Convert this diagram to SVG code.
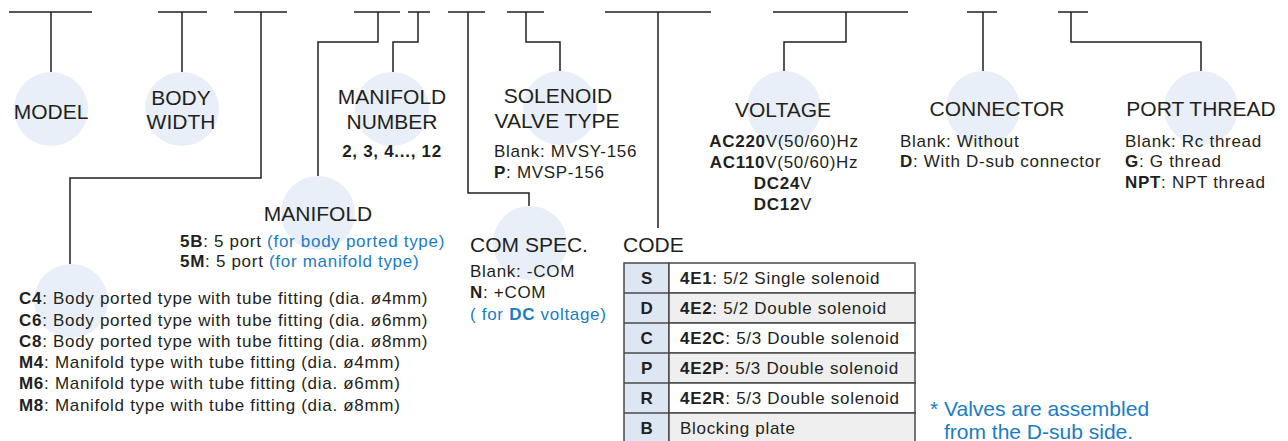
<svg xmlns="http://www.w3.org/2000/svg" width="1288" height="441" viewBox="0 0 1288 441">
<style>
text{font-family:"Liberation Sans",Arial,sans-serif;fill:#231f20}
.h{font-size:21px;text-anchor:middle}
.d{font-size:17px;letter-spacing:0.7px}
.c{text-anchor:middle}
.b{font-weight:bold}
.blue{fill:#1b7cc4}
.note{font-size:21px;fill:#1b7cc4}
.circ{fill:#e9eff9}
.ln{fill:none;stroke:#231f20;stroke-width:1.5}
.cell{stroke:#4a4a4a;stroke-width:1.5}
</style>
<rect width="1288" height="441" fill="#fff"/>
<g id="circles">
<circle class="circ" cx="51" cy="109" r="37"/>
<circle class="circ" cx="182" cy="109" r="37"/>
<circle class="circ" cx="392" cy="109" r="37"/>
<circle class="circ" cx="560" cy="108" r="37"/>
<circle class="circ" cx="784" cy="108" r="37"/>
<circle class="circ" cx="983" cy="108" r="37"/>
<circle class="circ" cx="1201" cy="108" r="37"/>
<circle class="circ" cx="318" cy="213" r="37"/>
<circle class="circ" cx="71" cy="301" r="37"/>
<circle class="circ" cx="530" cy="243" r="37"/>
</g>
<g id="connectors">
<path class="ln" d="M9 12H92M51 12V72"/>
<path class="ln" d="M158 12H207M182 12V72"/>
<path class="ln" d="M234 12H287M261 12V178H70V264"/>
<path class="ln" d="M354 12H400M378 12V42H318V176"/>
<path class="ln" d="M408 12H430M418 12V42H393V72"/>
<path class="ln" d="M448 12H485M468 12V193H529V206"/>
<path class="ln" d="M507 12H544M526 12V42H560V71"/>
<path class="ln" d="M605 12H711M658 12V228"/>
<path class="ln" d="M773 12H908M846 12V42H784V71"/>
<path class="ln" d="M967 12H997M983 12V71"/>
<path class="ln" d="M1058 12H1088M1071 12V42H1201V71"/>
</g>
<g id="model"><text class="h" x="51" y="119">MODEL</text></g>
<g id="body-width"><text class="h" x="181" y="105">BODY</text><text class="h" x="181" y="129">WIDTH</text></g>
<g id="manifold-number">
<text class="h" x="392" y="104">MANIFOLD</text><text class="h" x="392" y="129">NUMBER</text>
<text class="d b c" x="392" y="157">2, 3, 4..., 12</text>
</g>
<g id="solenoid">
<text class="h" x="558" y="103">SOLENOID</text><text class="h" x="557" y="128">VALVE TYPE</text>
<text class="d" x="494" y="157">Blank: MVSY-156</text>
<text class="d" x="494" y="178"><tspan class="b">P</tspan>: MVSP-156</text>
</g>
<g id="voltage">
<text class="h" x="783" y="117">VOLTAGE</text>
<text class="d c" x="784" y="147"><tspan class="b">AC220</tspan>V(50/60)Hz</text>
<text class="d c" x="784" y="168"><tspan class="b">AC110</tspan>V(50/60)Hz</text>
<text class="d c" x="783" y="189"><tspan class="b">DC24</tspan>V</text>
<text class="d c" x="783" y="210"><tspan class="b">DC12</tspan>V</text>
</g>
<g id="connector">
<text class="h" x="997" y="116">CONNECTOR</text>
<text class="d" x="900" y="147">Blank: Without</text>
<text class="d" x="900" y="167"><tspan class="b">D</tspan>: With D-sub connector</text>
</g>
<g id="port-thread">
<text class="h" x="1201" y="116">PORT THREAD</text>
<text class="d" x="1125" y="147">Blank: Rc thread</text>
<text class="d" x="1125" y="167"><tspan class="b">G</tspan>: G thread</text>
<text class="d" x="1125" y="188"><tspan class="b">NPT</tspan>: NPT thread</text>
</g>
<g id="manifold">
<text class="h" x="318" y="221">MANIFOLD</text>
<text class="d" x="180" y="247"><tspan class="b">5B</tspan>: 5 port <tspan class="blue">(for body ported type)</tspan></text>
<text class="d" x="180" y="267"><tspan class="b">5M</tspan>: 5 port <tspan class="blue">(for manifold type)</tspan></text>
</g>
<g id="fitting">
<text class="d" x="19" y="304"><tspan class="b">C4</tspan>: Body ported type with tube fitting (dia. ø4mm)</text>
<text class="d" x="19" y="326"><tspan class="b">C6</tspan>: Body ported type with tube fitting (dia. ø6mm)</text>
<text class="d" x="19" y="347"><tspan class="b">C8</tspan>: Body ported type with tube fitting (dia. ø8mm)</text>
<text class="d" x="19" y="368"><tspan class="b">M4</tspan>: Manifold type with tube fitting (dia. ø4mm)</text>
<text class="d" x="19" y="389"><tspan class="b">M6</tspan>: Manifold type with tube fitting (dia. ø6mm)</text>
<text class="d" x="19" y="411"><tspan class="b">M8</tspan>: Manifold type with tube fitting (dia. ø8mm)</text>
</g>
<g id="com-spec">
<text class="h" x="529" y="252">COM SPEC.</text>
<text class="d" x="470" y="277">Blank: -COM</text>
<text class="d" x="470" y="298"><tspan class="b">N</tspan>: +COM</text>
<text class="d blue" x="470" y="320">( for <tspan class="b">DC</tspan> voltage)</text>
</g>
<g id="code">
<text class="h" x="623" y="252" style="text-anchor:start">CODE</text>
<g id="code-table">
<rect class="cell" x="624" y="263" width="45" height="180" fill="#dde6f3"/>
<rect class="cell" x="669" y="263" width="246" height="30" fill="#fff"/>
<rect class="cell" x="669" y="293" width="246" height="30" fill="#efefef"/>
<rect class="cell" x="669" y="323" width="246" height="30" fill="#fff"/>
<rect class="cell" x="669" y="353" width="246" height="30" fill="#efefef"/>
<rect class="cell" x="669" y="383" width="246" height="30" fill="#fff"/>
<rect class="cell" x="669" y="413" width="246" height="30" fill="#efefef"/>
<path class="cell" d="M624 293H669M624 323H669M624 353H669M624 383H669M624 413H669"/>
<text class="d b c" x="647" y="284">S</text>
<text class="d b c" x="647" y="314">D</text>
<text class="d b c" x="647" y="344">C</text>
<text class="d b c" x="647" y="374">P</text>
<text class="d b c" x="647" y="404">R</text>
<text class="d b c" x="647" y="434">B</text>
<text class="d" x="680" y="284"><tspan class="b">4E1</tspan>: 5/2 Single solenoid</text>
<text class="d" x="680" y="314"><tspan class="b">4E2</tspan>: 5/2 Double solenoid</text>
<text class="d" x="680" y="344"><tspan class="b">4E2C</tspan>: 5/3 Double solenoid</text>
<text class="d" x="680" y="374"><tspan class="b">4E2P</tspan>: 5/3 Double solenoid</text>
<text class="d" x="680" y="404"><tspan class="b">4E2R</tspan>: 5/3 Double solenoid</text>
<text class="d" x="680" y="434">Blocking plate</text>
</g>
</g>
<g id="note">
<text class="note" x="930" y="416">* Valves are assembled</text>
<text class="note" x="944" y="439">from the D-sub side.</text>
</g>
</svg>
